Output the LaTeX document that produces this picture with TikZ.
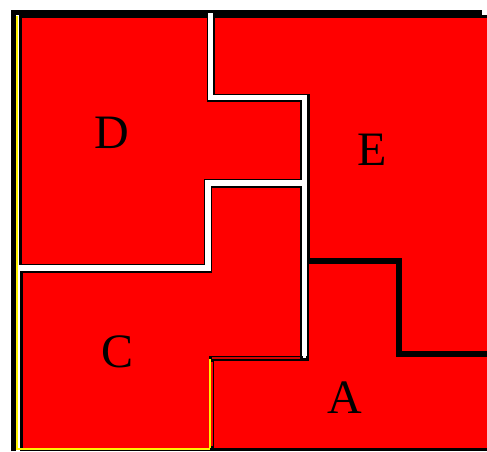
\documentclass[tikz,border=0pt]{standalone}
\usepackage{fontspec}
\setmainfont{Liberation Serif}
\begin{document}
\begin{tikzpicture}[x=1pt, y=-1pt, line join=miter]
        \tikzset{
            piece/.style={fill=red, draw=black, line width=3pt},
            gap/.style={draw=white, line width=5pt},
            letter/.style={font=\fontsize{48}{52}\selectfont, inner sep=0pt}
        }
        \useasboundingbox (0,0) rectangle (487,451);

        % --- Outer frame ---
        \draw[line width=5pt] (13,451) -- (13,12) -- (482,12);

        % --- The four pieces ---
        \draw[piece] (20,16) -- (208,16) -- (208,100) -- (301,100) -- (301,180)
            -- (205,180) -- (205,265) -- (20,265) -- cycle;
        \draw[piece] (213,16) -- (489,16) -- (489,352) -- (400,352) -- (400,259)
            -- (308,259) -- (308,95) -- (213,95) -- cycle;
        \draw[piece] (21,271) -- (210,271) -- (210,186) -- (301,186) -- (301,357)
            -- (210,357) -- (210,449) -- (21,449) -- cycle;
        \draw[piece] (307,262) -- (397,262) -- (397,355) -- (489,355) -- (489,449)
            -- (212,449) -- (212,359) -- (307,359) -- cycle;

        % --- White gaps between the pieces ---
        \draw[gap] (210.5,13) -- (210.5,97.5) -- (304,97.5) -- (304,356);
        \draw[gap, line width=6pt] (18,268) -- (207.5,268) -- (207.5,183) -- (304,183);

        % --- Seam between C and A ---
        \draw[red!85!black, line width=1.5pt] (212,358) -- (300,358);
        \draw[red, line width=3pt] (211,362) -- (211,446);
        \draw[yellow, line width=1.2pt] (210,359) -- (210,448);
        \draw[yellow, line width=1.2pt] (17,16) -- (17,449) -- (210,449);

        % --- Letters ---
        \node[letter] (D) at (112,133) {D};
        \node[letter] (E) at (372,150) {E};
        \node[letter] (C) at (118,352) {C};
        \node[letter] (A) at (345,398) {A};
    \end{tikzpicture}
\end{document}
